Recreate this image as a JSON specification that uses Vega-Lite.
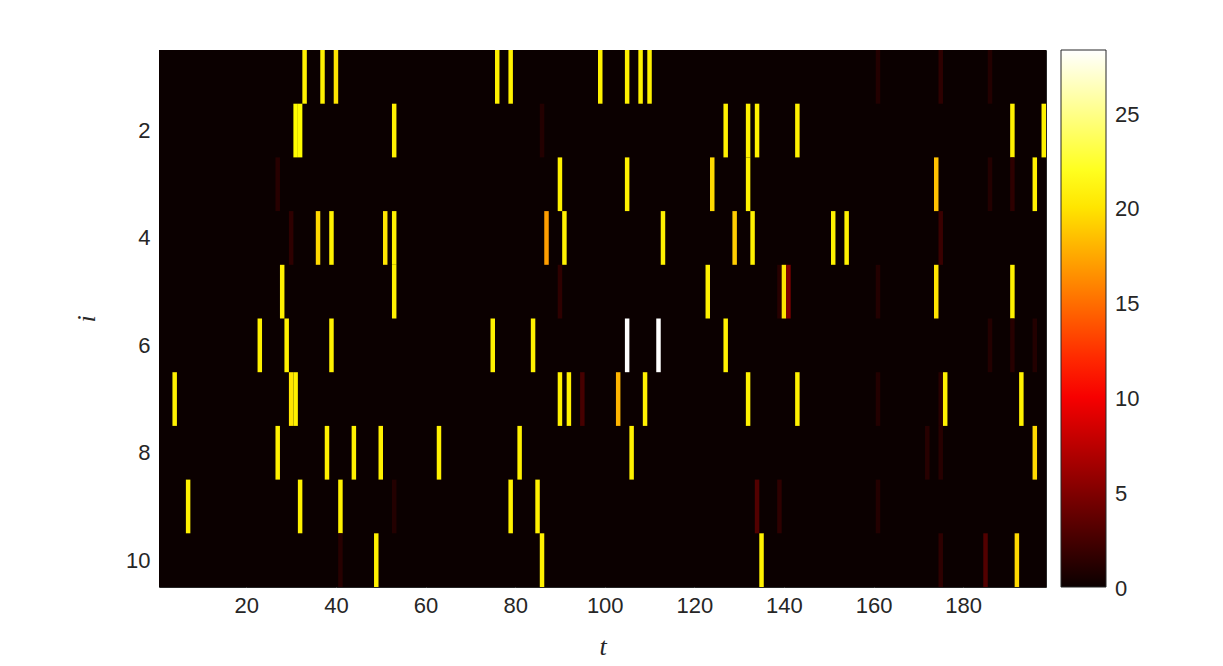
{
  "$schema": "https://vega.github.io/schema/vega-lite/v6.json",
  "width": 887,
  "height": 537,
  "autosize": {"type": "none"},
  "padding": {"left": 159, "top": 50, "right": 177, "bottom": 79},
  "background": "white",
  "config": {
    "view": {"stroke": "#262626", "strokeWidth": 1},
    "axis": {
      "labelFont": "Liberation Sans",
      "labelFontSize": 22,
      "labelColor": "#262626",
      "titleFont": "Liberation Serif",
      "titleFontStyle": "italic",
      "titleFontWeight": "normal",
      "titleFontSize": 26,
      "titleColor": "#262626",
      "domain": false,
      "grid": false,
      "tickColor": "#6a6a6a",
      "tickSize": -6,
      "tickWidth": 1,
      "zindex": 1
    },
    "legend": {
      "labelFont": "Liberation Sans",
      "labelFontSize": 22,
      "labelColor": "#262626"
    }
  },
  "datasets": {
    "bg": [{"t0": 0.5, "t1": 198.5, "i0": 0.5, "i1": 10.5, "v": 0}],
    "cells": [
      {"t": 33, "i": 1, "v": 20.5}, {"t": 37, "i": 1, "v": 20.5}, {"t": 40, "i": 1, "v": 20}, {"t": 76, "i": 1, "v": 20.5}, {"t": 79, "i": 1, "v": 20.5}, {"t": 99, "i": 1, "v": 20.5}, {"t": 105, "i": 1, "v": 20.5}, {"t": 108, "i": 1, "v": 20.5}, {"t": 110, "i": 1, "v": 20.5}, {"t": 161, "i": 1, "v": 1}, {"t": 175, "i": 1, "v": 1.5}, {"t": 186, "i": 1, "v": 1},
      {"t": 31, "i": 2, "v": 21}, {"t": 32, "i": 2, "v": 21}, {"t": 53, "i": 2, "v": 20.5}, {"t": 86, "i": 2, "v": 1}, {"t": 127, "i": 2, "v": 20.5}, {"t": 132, "i": 2, "v": 20.5}, {"t": 134, "i": 2, "v": 20.5}, {"t": 143, "i": 2, "v": 20.5}, {"t": 191, "i": 2, "v": 20.5}, {"t": 198, "i": 2, "v": 20.5},
      {"t": 27, "i": 3, "v": 1.2}, {"t": 90, "i": 3, "v": 20.5}, {"t": 105, "i": 3, "v": 20.5}, {"t": 124, "i": 3, "v": 19.5}, {"t": 132, "i": 3, "v": 20.5}, {"t": 174, "i": 3, "v": 18.5}, {"t": 186, "i": 3, "v": 1}, {"t": 191, "i": 3, "v": 1.5}, {"t": 196, "i": 3, "v": 20.5},
      {"t": 30, "i": 4, "v": 1.5}, {"t": 36, "i": 4, "v": 19.5}, {"t": 39, "i": 4, "v": 20.5}, {"t": 51, "i": 4, "v": 20}, {"t": 53, "i": 4, "v": 20.5}, {"t": 87, "i": 4, "v": 17}, {"t": 91, "i": 4, "v": 20.5}, {"t": 113, "i": 4, "v": 20.5}, {"t": 129, "i": 4, "v": 19}, {"t": 133, "i": 4, "v": 20.5}, {"t": 151, "i": 4, "v": 20.5}, {"t": 154, "i": 4, "v": 20.5}, {"t": 175, "i": 4, "v": 2},
      {"t": 28, "i": 5, "v": 20.5}, {"t": 53, "i": 5, "v": 20.5}, {"t": 90, "i": 5, "v": 1.5}, {"t": 123, "i": 5, "v": 20.5}, {"t": 139, "i": 5, "v": 1.2}, {"t": 140, "i": 5, "v": 20}, {"t": 141, "i": 5, "v": 5}, {"t": 161, "i": 5, "v": 1}, {"t": 174, "i": 5, "v": 20}, {"t": 191, "i": 5, "v": 20.5},
      {"t": 23, "i": 6, "v": 20.5}, {"t": 29, "i": 6, "v": 20.5}, {"t": 39, "i": 6, "v": 20.5}, {"t": 75, "i": 6, "v": 20.5}, {"t": 84, "i": 6, "v": 20.5}, {"t": 105, "i": 6, "v": 28.3}, {"t": 112, "i": 6, "v": 28.3}, {"t": 127, "i": 6, "v": 20.5}, {"t": 186, "i": 6, "v": 1}, {"t": 191, "i": 6, "v": 1.2}, {"t": 196, "i": 6, "v": 1},
      {"t": 4, "i": 7, "v": 20.5}, {"t": 30, "i": 7, "v": 20}, {"t": 31, "i": 7, "v": 20.5}, {"t": 90, "i": 7, "v": 20.5}, {"t": 92, "i": 7, "v": 20.5}, {"t": 95, "i": 7, "v": 2.5}, {"t": 103, "i": 7, "v": 18}, {"t": 109, "i": 7, "v": 20.5}, {"t": 132, "i": 7, "v": 20.5}, {"t": 143, "i": 7, "v": 20.5}, {"t": 161, "i": 7, "v": 1}, {"t": 175, "i": 7, "v": 1.2}, {"t": 176, "i": 7, "v": 20.5}, {"t": 193, "i": 7, "v": 20.5},
      {"t": 27, "i": 8, "v": 20.5}, {"t": 38, "i": 8, "v": 20.5}, {"t": 44, "i": 8, "v": 20.5}, {"t": 50, "i": 8, "v": 20.5}, {"t": 63, "i": 8, "v": 20.5}, {"t": 81, "i": 8, "v": 20.5}, {"t": 106, "i": 8, "v": 20.5}, {"t": 172, "i": 8, "v": 1.2}, {"t": 175, "i": 8, "v": 1.2}, {"t": 196, "i": 8, "v": 19.5},
      {"t": 7, "i": 9, "v": 20.5}, {"t": 32, "i": 9, "v": 20.5}, {"t": 41, "i": 9, "v": 20.5}, {"t": 53, "i": 9, "v": 1}, {"t": 79, "i": 9, "v": 20.5}, {"t": 85, "i": 9, "v": 20.5}, {"t": 134, "i": 9, "v": 3}, {"t": 139, "i": 9, "v": 1.5}, {"t": 161, "i": 9, "v": 1},
      {"t": 41, "i": 10, "v": 1.2}, {"t": 49, "i": 10, "v": 20.5}, {"t": 86, "i": 10, "v": 20.5}, {"t": 135, "i": 10, "v": 20.5}, {"t": 175, "i": 10, "v": 1.5}, {"t": 185, "i": 10, "v": 3}, {"t": 192, "i": 10, "v": 19.5}
    ]
  },
  "layer": [
    {
      "data": {"name": "bg"},
      "mark": {"type": "rect"},
      "encoding": {
        "x": {
          "field": "t0", "type": "quantitative",
          "scale": {"domain": [0.5, 198.5], "nice": false, "zero": false},
          "axis": {"title": "t", "values": [20, 40, 60, 80, 100, 120, 140, 160, 180], "labelPadding": 14, "titlePadding": 17}
        },
        "x2": {"field": "t1"},
        "y": {
          "field": "i0", "type": "quantitative",
          "scale": {"domain": [0.5, 10.5], "nice": false, "zero": false, "reverse": true},
          "axis": {"title": "i", "values": [2, 4, 6, 8, 10], "labelPadding": 15, "titlePadding": 26}
        },
        "y2": {"field": "i1"},
        "color": {
          "field": "v", "type": "quantitative",
          "scale": {"domain": [0, 10.33, 21.11, 28.3], "range": ["#0b0000", "#ff0000", "#ffff00", "#ffffff"], "interpolate": "rgb"},
          "legend": {
            "title": null, "orient": "right", "offset": 15,
            "direction": "vertical",
            "gradientLength": 537, "gradientThickness": 45,
            "gradientStrokeColor": "#262626", "gradientStrokeWidth": 1,
            "values": [0, 5, 10, 15, 20, 25],
            "labelOffset": 9, "padding": 0,
            "encode": {"labels": {"update": {"baseline": {"value": "middle"}, "dy": {"value": 2}}}}
          }
        }
      }
    },
    {
      "data": {"name": "cells"},
      "mark": {"type": "tick", "orient": "vertical", "thickness": 4.48, "size": 53.7, "opacity": 1},
      "encoding": {
        "x": {"field": "t", "type": "quantitative"},
        "y": {"field": "i", "type": "quantitative"},
        "color": {"field": "v", "type": "quantitative"}
      }
    }
  ]
}
